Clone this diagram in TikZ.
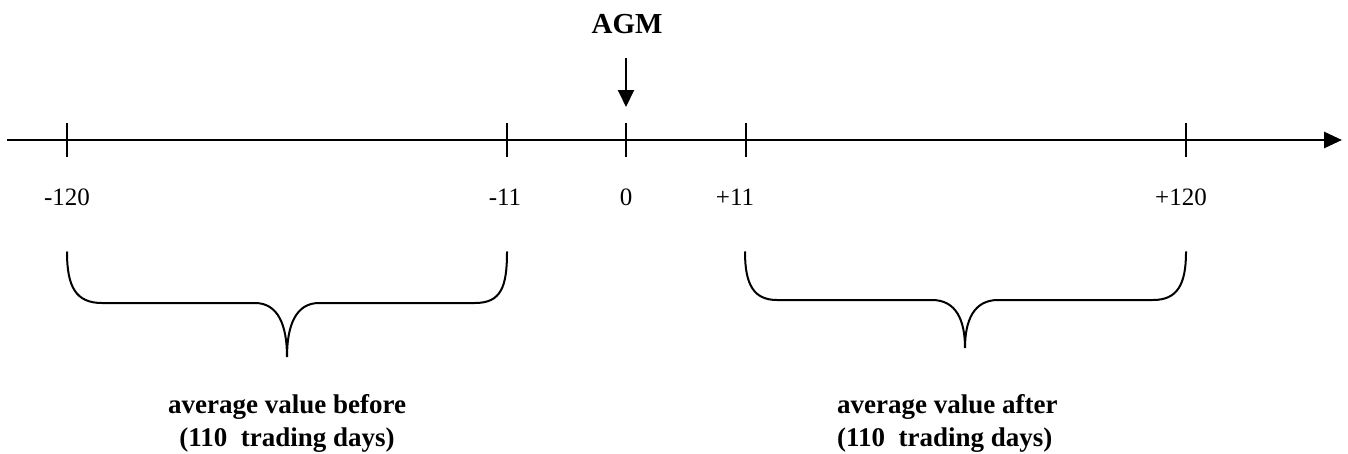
\documentclass[tikz,border=0pt]{standalone}
\usepackage{fontspec}
\setmainfont{Liberation Serif}
\usetikzlibrary{arrows.meta}
\begin{document}
\begin{tikzpicture}[x=1pt,y=-1pt,
  lbl/.style={font=\fontsize{25}{30}\selectfont, inner sep=0pt, anchor=center},
  boldtxt/.style={font=\fontsize{27}{33}\selectfont\bfseries, inner sep=0pt},
  tickline/.style={line width=2pt},
  axisline/.style={line width=2.8pt, -{Triangle[length=18pt,width=16pt]}},
  agmarrow/.style={line width=2pt, -{Triangle[length=17pt,width=16pt]}},
  bracepath/.style={line width=2pt, line cap=round}]
\useasboundingbox (0,0) rectangle (1348,453);
% axis
\coordinate (s) at (7,140);
\coordinate (e) at (1342,140);
\draw[axisline] (s) -- (e);
% ticks
\foreach \n/\x in {m120/67, m11/507, z/626, p11/746, p120/1186} {
  \coordinate (tt\n) at (\x,123);
  \coordinate (tb\n) at (\x,157);
  \draw[tickline] (tt\n) -- (tb\n);
}
% tick labels
\node[lbl] (lm120) at (67,197) {-120};
\node[lbl] (lm11)  at (505,197) {-11};
\node[lbl] (lz)    at (626,197) {0};
\node[lbl] (lp11)  at (735,197) {+11};
\node[lbl] (lp120) at (1181,197) {+120};
% AGM
\node[boldtxt, font=\fontsize{29}{33}\selectfont\bfseries] (agm) at (627,24) {AGM};
\coordinate (atop) at (626,58);
\coordinate (atip) at (626,107);
\draw[agmarrow] (atop) -- (atip);
% left brace
\draw[bracepath] (67,252) .. controls (67,287) and (76,303) .. (102,303) -- (255,303)
  .. controls (278,303) and (287,325) .. (287,357)
  .. controls (287,325) and (296,303) .. (319,303) -- (475,303)
  .. controls (501,303) and (507,287) .. (507,252);
% right brace
\draw[bracepath] (745,252) .. controls (745,285) and (754,300) .. (777,300) -- (932,300)
  .. controls (956,300) and (965,320) .. (965,348)
  .. controls (965,320) and (974,300) .. (998,300) -- (1153,300)
  .. controls (1177,300) and (1186,285) .. (1186,252);
% texts
\node[boldtxt, align=center] (before) at (287,423) {average value before\\(110~~trading days)};
\node[boldtxt, align=left, anchor=west] (after) at (837,423) {average value after\\(110~~trading days)};
\end{tikzpicture}
\end{document}
